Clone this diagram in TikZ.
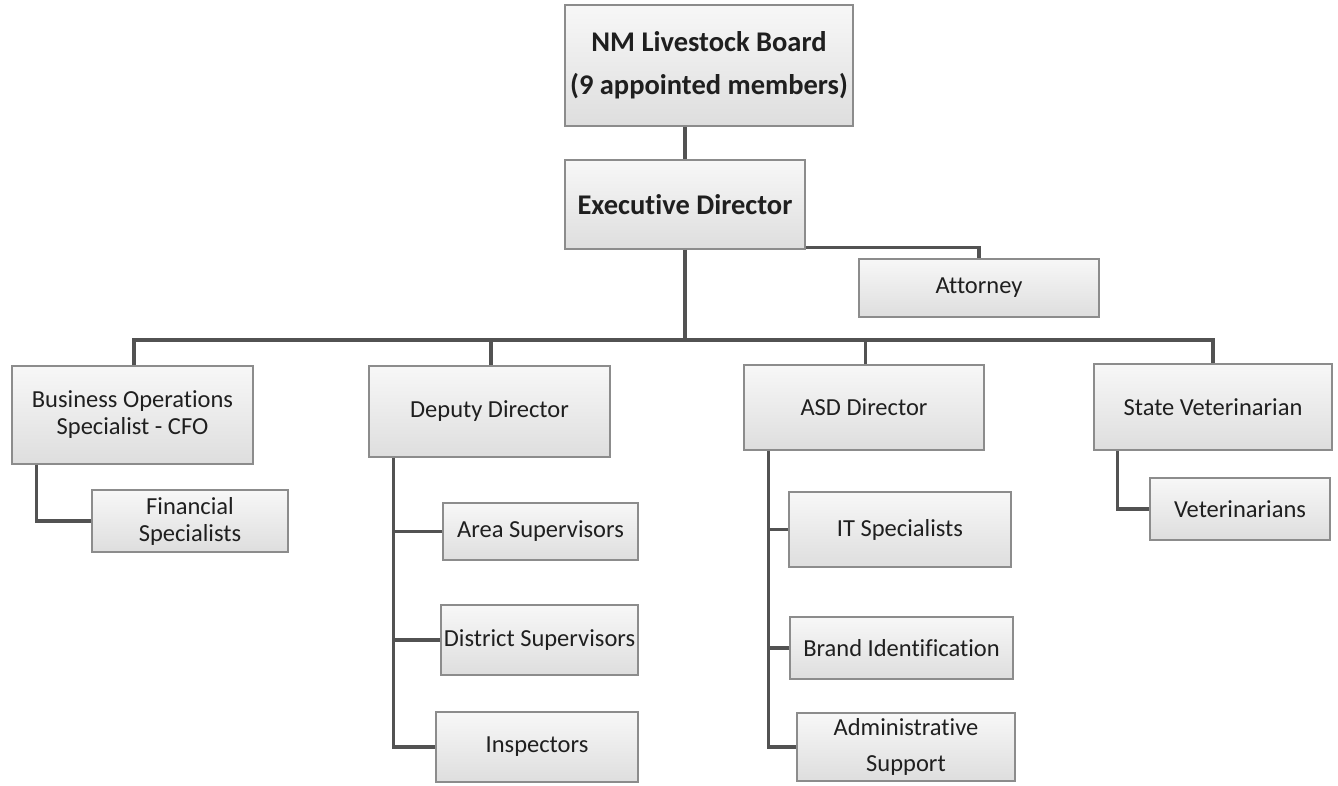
\documentclass[tikz,border=0pt]{standalone}
\usepackage{fontspec}
\setmainfont{Carlito}[Ligatures=NoCommon]
\usepackage{xcolor}
\usepackage{tikz}
\usetikzlibrary{positioning}

\begin{document}
\begin{tikzpicture}[x=1pt,y=-1pt,
  post/.style={draw=black!45,line width=1.1pt,top color=black!3,bottom color=black!13,inner sep=0pt,align=center,text=black!88,font=\fontsize{24.5}{27}\selectfont},
  link/.style={draw=black!68,line width=3.2pt}]
\useasboundingbox (0,0) rectangle (1338,785);
\node[post,minimum width=288,minimum height=121,font=\fontsize{28.5}{31}\selectfont\bfseries] (board) at (709,65.5) {NM Livestock Board\\[12pt](9 appointed members)};
\node[post,minimum width=240,minimum height=89,font=\fontsize{28.5}{31}\selectfont\bfseries] (exec) at (685,204.5) {Executive Director};
\node[post,minimum width=240,minimum height=58] (attorney) at (979,288) {Attorney};
\node[post,minimum width=241,minimum height=98] (bizops) at (132.5,415) {Business Operations\\Specialist - CFO};
\node[post,minimum width=196,minimum height=62] (financial) at (190,521) {Financial\\Specialists};
\node[post,minimum width=241,minimum height=91] (deputy) at (489.5,411.5) {Deputy Director};
\node[post,minimum width=195,minimum height=57] (area) at (540.5,531.5) {Area Supervisors};
\node[post,minimum width=197,minimum height=70] (district) at (539.5,640) {District Supervisors};
\node[post,minimum width=202,minimum height=70] (inspectors) at (537,747) {Inspectors};
\node[post,minimum width=240,minimum height=85] (asd) at (864,407.5) {ASD Director};
\node[post,minimum width=222,minimum height=75] (itspec) at (900,529.5) {IT Specialists};
\node[post,minimum width=223,minimum height=62] (brand) at (901.5,648) {Brand Identification};
\node[post,minimum width=218,minimum height=68] (admin) at (906,747) {Administrative\\[9pt]Support};
\node[post,minimum width=238,minimum height=86] (statevet) at (1213,407) {State Veterinarian};
\node[post,minimum width=180,minimum height=62] (vets) at (1240,509) {Veterinarians};
\coordinate (bus) at (685,340);
\coordinate (ftrunk) at ([xshift=25pt]bizops.south west);
\coordinate (dtrunk) at ([xshift=25pt]deputy.south west);
\coordinate (atrunk) at ([xshift=25pt]asd.south west);
\coordinate (vtrunk) at ([xshift=24pt]statevet.south west);
\draw[link] (exec.north) -- (exec.north |- board.south);
\draw[link] ([yshift=2pt]exec.south east) -| (attorney.north);
\draw[link] (exec.south) -- (bus);
\draw[link] ([xshift=1.5pt]bizops.north) |- (statevet.north |- bus) -- (statevet.north);
\foreach \n in {deputy,asd}{\draw[link] ([xshift=1.5pt]\n.north) -- ([xshift=1.5pt]\n.north |- bus);}
\draw[link] (ftrunk) |- (financial.west);
\draw[link] (dtrunk) |- (inspectors.west);
\foreach \n in {area,district}{\draw[link] (\n.west) -- (\n.west -| dtrunk);}
\draw[link] (atrunk) |- (admin.west);
\foreach \n in {itspec,brand}{\draw[link] (\n.west) -- (\n.west -| atrunk);}
\draw[link] (vtrunk) |- (vets.west);
\end{tikzpicture}
\end{document}
